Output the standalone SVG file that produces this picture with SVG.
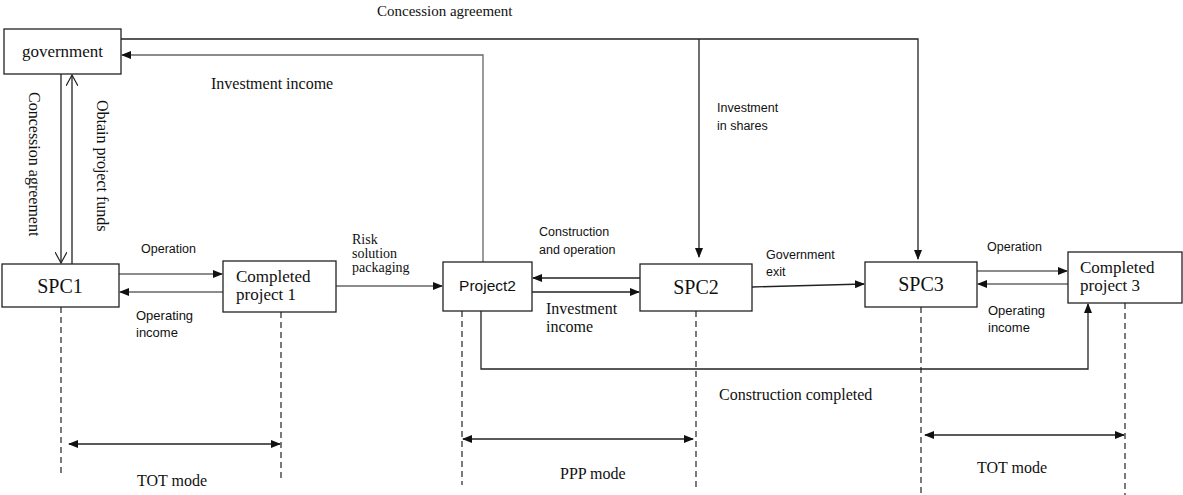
<svg xmlns="http://www.w3.org/2000/svg" width="1183" height="495" viewBox="0 0 1183 495">
<style>
.box{fill:#fff;stroke:#222;stroke-width:1.3}
.ln{fill:none;stroke:#222;stroke-width:1.3}
.gl{fill:none;stroke:#666;stroke-width:1.3}
.dash{fill:none;stroke:#222;stroke-width:1.2;stroke-dasharray:6,4}
.sf{font-family:"Liberation Serif",serif;fill:#111}
.ss{font-family:"Liberation Sans",sans-serif;fill:#111}
</style>
<defs>
<marker id="ah" markerWidth="10" markerHeight="8" refX="9" refY="4" orient="auto" markerUnits="userSpaceOnUse">
<path d="M0,0 L10,4 L0,8 Z" fill="#111"/>
</marker>
<marker id="ahs" markerWidth="10" markerHeight="8" refX="1" refY="4" orient="auto" markerUnits="userSpaceOnUse">
<path d="M10,0 L0,4 L10,8 Z" fill="#111"/>
</marker>
<marker id="open" markerWidth="12" markerHeight="12" refX="11" refY="6" orient="auto" markerUnits="userSpaceOnUse">
<path d="M0,0 L11,6 L0,12" fill="none" stroke="#222" stroke-width="1.2"/>
</marker>
</defs>

<g id="connectors">
<path class="ln" d="M121,39 H918 V259" marker-end="url(#ah)"/>
<path class="ln" d="M699,39 V257" marker-end="url(#ah)"/>
<path class="gl" d="M483,262 V55 H122" marker-end="url(#ah)"/>
<path class="ln" d="M61,74 V263" marker-end="url(#open)"/>
<path class="ln" d="M72,264 V75" marker-end="url(#open)"/>
<path class="gl" d="M119,274 H222" marker-end="url(#ah)"/>
<path class="gl" d="M223,292 H120" marker-end="url(#ah)"/>
<path class="gl" d="M336,286 H442" marker-end="url(#ah)"/>
<path class="ln" d="M640,278 H533" marker-end="url(#ah)"/>
<path class="ln" d="M532,292 H639" marker-end="url(#ah)"/>
<path class="ln" d="M752,287 L864,284" marker-end="url(#ah)"/>
<path class="gl" d="M977,271 H1067" marker-end="url(#ah)"/>
<path class="gl" d="M1068,284 H978" marker-end="url(#ah)"/>
<path class="ln" d="M481,311 V369 H1088 V304" marker-end="url(#ah)"/>
<path class="dash" d="M61,307 V475"/>
<path class="dash" d="M281,312 V480"/>
<path class="dash" d="M462,311 V485"/>
<path class="dash" d="M696,311 V487"/>
<path class="dash" d="M921,307 V495"/>
<path class="dash" d="M1125,303 V495"/>
<path class="ln" stroke-width="1.6" d="M69,444 H280" marker-start="url(#ahs)" marker-end="url(#ah)"/>
<path class="ln" stroke-width="1.6" d="M463,439 H693" marker-start="url(#ahs)" marker-end="url(#ah)"/>
<path class="ln" stroke-width="1.6" d="M925,435 H1124" marker-start="url(#ahs)" marker-end="url(#ah)"/>
</g>

<g id="labels">
<text class="sf" x="377" y="16" font-size="15">Concession agreement</text>
<text class="sf" x="211" y="89" font-size="16">Investment income</text>
<text class="sf" font-size="16" transform="translate(29,92) rotate(90)">Concession agreement</text>
<text class="sf" font-size="16" transform="translate(97,100) rotate(90)">Obtain project funds</text>
<text class="ss" x="141" y="253" font-size="12.5">Operation</text>
<text class="ss" font-size="13"><tspan x="136" y="320">Operating</tspan><tspan x="136" y="337">income</tspan></text>
<text class="sf" font-size="14"><tspan x="352" y="244">Risk</tspan><tspan x="352" y="258">solution</tspan><tspan x="352" y="272">packaging</tspan></text>
<text class="ss" font-size="12.5"><tspan x="539" y="236">Construction</tspan><tspan x="539" y="254">and operation</tspan></text>
<text class="ss" font-size="12.5"><tspan x="717" y="112">Investment</tspan><tspan x="717" y="130">in shares</tspan></text>
<text class="sf" font-size="16"><tspan x="546" y="314">Investment</tspan><tspan x="546" y="332">income</tspan></text>
<text class="ss" font-size="12.5"><tspan x="766" y="259">Government</tspan><tspan x="766" y="276">exit</tspan></text>
<text class="ss" x="987" y="251" font-size="12.5">Operation</text>
<text class="ss" font-size="13"><tspan x="988" y="315">Operating</tspan><tspan x="988" y="332">income</tspan></text>
<text class="sf" x="719" y="400" font-size="16">Construction completed</text>
<text class="sf" x="137" y="486" font-size="16">TOT mode</text>
<text class="sf" x="560" y="479" font-size="16">PPP mode</text>
<text class="sf" x="977" y="473" font-size="16">TOT mode</text>
</g>

<g id="government">
<rect class="box" x="4" y="29" width="117" height="45"/>
<text class="sf" x="62.5" y="57" font-size="17" text-anchor="middle">government</text>
</g>
<g id="spc1">
<rect class="box" x="2" y="264" width="117" height="43"/>
<text class="sf" x="60" y="293" font-size="20" text-anchor="middle">SPC1</text>
</g>
<g id="completed1">
<rect class="box" x="223" y="261" width="113" height="51"/>
<text class="sf" font-size="17"><tspan x="236" y="282">Completed</tspan><tspan x="236" y="300">project 1</tspan></text>
</g>
<g id="project2">
<rect class="box" x="443" y="262" width="89" height="49"/>
<text class="ss" x="487.5" y="291" font-size="15.5" text-anchor="middle">Project2</text>
</g>
<g id="spc2">
<rect class="box" x="640" y="264" width="112" height="47"/>
<text class="sf" x="696" y="294" font-size="20" text-anchor="middle">SPC2</text>
</g>
<g id="spc3">
<rect class="box" x="865" y="262" width="112" height="45"/>
<text class="sf" x="921" y="291" font-size="20" text-anchor="middle">SPC3</text>
</g>
<g id="completed3">
<rect class="box" x="1068" y="252" width="114" height="51"/>
<text class="sf" font-size="17"><tspan x="1080" y="273">Completed</tspan><tspan x="1080" y="291">project 3</tspan></text>
</g>
</svg>
